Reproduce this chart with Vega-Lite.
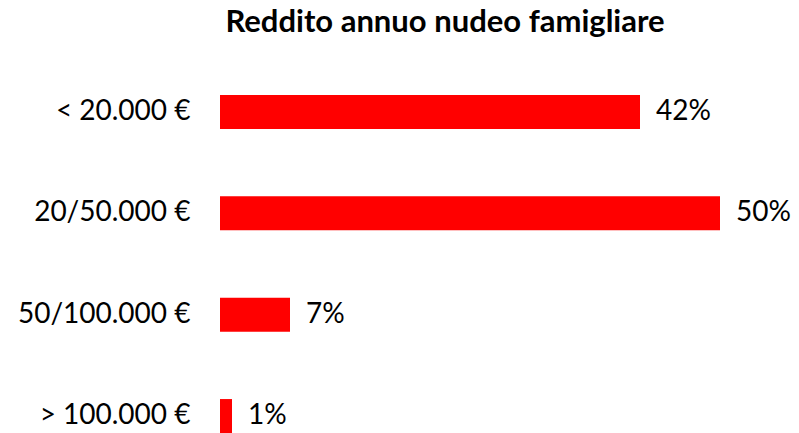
{
  "$schema": "https://vega.github.io/schema/vega-lite/v6.json",
  "width": 500,
  "height": 338,
  "autosize": "none",
  "padding": {"left": 220, "top": 95, "right": 79, "bottom": 0},
  "background": "white",
  "title": {
    "text": "Reddito annuo nudeo famigliare",
    "font": "Lato",
    "fontSize": 31,
    "fontWeight": "bold",
    "color": "#000000",
    "anchor": "middle",
    "dx": -25,
    "offset": 56
  },
  "data": {
    "values": [
      {"fascia": "< 20.000 €", "quota": 0.42},
      {"fascia": "20/50.000 €", "quota": 0.50},
      {"fascia": "50/100.000 €", "quota": 0.07},
      {"fascia": "> 100.000 €", "quota": 0.012}
    ]
  },
  "encoding": {
    "y": {
      "field": "fascia",
      "type": "nominal",
      "sort": null,
      "scale": {"paddingInner": 0.665, "paddingOuter": 0},
      "axis": {
        "title": null,
        "domain": false,
        "ticks": false,
        "labelFont": "Lato",
        "labelFontSize": 28,
        "labelColor": "#000000",
        "labelPadding": 30
      }
    },
    "x": {
      "field": "quota",
      "type": "quantitative",
      "scale": {"domain": [0, 0.5], "nice": false},
      "axis": null
    }
  },
  "layer": [
    {"mark": {"type": "bar", "color": "#ff0000"}},
    {
      "mark": {"type": "text", "align": "left", "baseline": "middle", "dx": 16, "font": "Lato", "fontSize": 28, "color": "#000000"},
      "encoding": {"text": {"field": "quota", "type": "quantitative", "format": ".0%"}}
    }
  ],
  "config": {"view": {"stroke": null}}
}
